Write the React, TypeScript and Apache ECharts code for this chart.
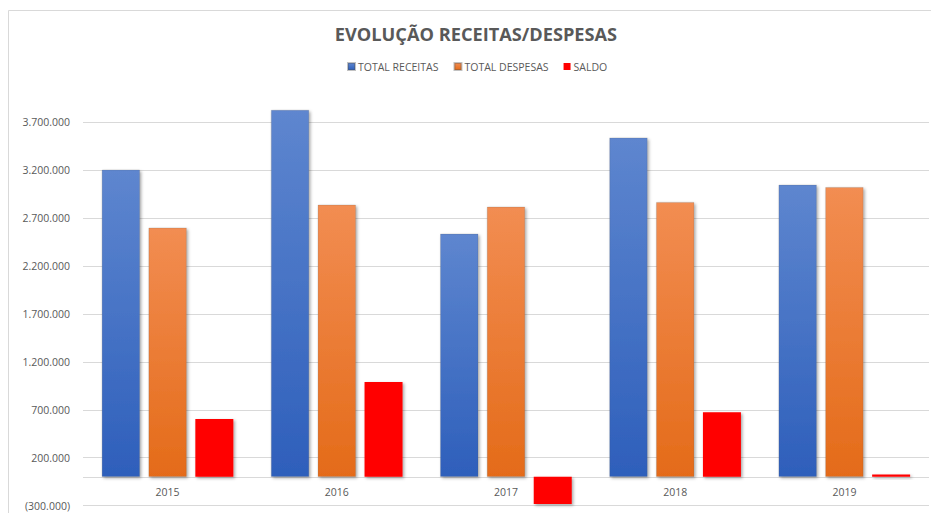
import React, { useEffect, useRef } from "react";
import * as echarts from "echarts";

const categories = ["2015", "2016", "2017", "2018", "2019"];
const totalReceitas = [3205000, 3828000, 2536000, 3540000, 3048000];
const totalDespesas = [2600000, 2839000, 2818000, 2867000, 3023000];
const saldo = [605000, 989000, -282000, 673000, 25000];
const yTicks = [-300000, 200000, 700000, 1200000, 1700000, 2200000, 2700000, 3200000, 3700000];

const fmt = (v: number) => {
  const s = Math.round(Math.abs(v)).toString().replace(/\B(?=(\d{3})+(?!\d))/g, ".");
  return v < 0 ? `(${s})` : s;
};

const TEXT = "#595959";
const FONT = "Open Sans";

export default function App() {
  const ref = useRef<HTMLDivElement>(null);
  useEffect(() => {
    if (!ref.current) return;
    const chart = echarts.init(ref.current, null, { renderer: "svg" });
    const shadow = {
      shadowBlur: 3,
      shadowOffsetX: 1.5,
      shadowOffsetY: 1.5,
      shadowColor: "rgba(0,0,0,0.35)",
    };
    chart.setOption({
      animation: false,
      backgroundColor: "#ffffff",
      textStyle: { fontFamily: FONT },
      title: {
        text: "EVOLUÇÃO RECEITAS/DESPESAS",
        left: 471,
        top: 20,
        textAlign: "center",
        textStyle: { fontFamily: FONT, fontSize: 18.2, fontWeight: "bold", color: TEXT },
      },
      legend: {
        left: 342,
        top: 56,
        itemWidth: 7,
        itemHeight: 7,
        itemGap: 15,
        icon: "rect",
        textStyle: { fontFamily: FONT, fontSize: 10.5, color: TEXT, padding: [0, 0, 0, -2] },
        data: ["TOTAL RECEITAS", "TOTAL DESPESAS", "SALDO"],
      },
      graphic: [
        {
          type: "rect",
          shape: { x: 8.5, y: 10.5, width: 940, height: 520 },
          style: { fill: "none", stroke: "#D9D9D9", lineWidth: 1 },
          silent: true,
        },
      ],
      grid: {
        left: 83,
        right: 2,
        top: 93.6,
        bottom: 7.4,
        containLabel: false,
        outerBoundsMode: "none",
      },
      xAxis: {
        type: "category",
        data: categories,
        position: "bottom",
        axisLine: { show: false, onZero: false },
        axisTick: { show: false },
        axisLabel: { color: TEXT, fontFamily: FONT, fontSize: 10.5, margin: -19 },
        splitLine: { show: false },
      },
      yAxis: {
        type: "value",
        min: -300000,
        max: 4000000,
        axisLine: { show: false },
        axisTick: { show: false, customValues: yTicks },
        axisLabel: {
          customValues: yTicks,
          color: TEXT,
          fontFamily: FONT,
          fontSize: 10.5,
          margin: 13,
          formatter: (v: number) => fmt(v),
        },
        splitLine: { show: true, lineStyle: { color: "#D9D9D9", width: 1 } },
      },
      series: [
        {
          name: "TOTAL RECEITAS",
          type: "bar",
          data: totalReceitas,
          barWidth: 38,
          barGap: "23%",
          z: 3,
          itemStyle: {
            color: new echarts.graphic.LinearGradient(0, 0, 0, 1, [
              { offset: 0, color: "#5E86CF" },
              { offset: 1, color: "#2E5FBB" },
            ]),
            borderColor: "rgba(80,80,80,0.35)",
            borderWidth: 0.5,
            ...shadow,
          },
          markLine: {
            silent: true,
            symbol: ["none", "none"],
            label: { show: false },
            lineStyle: { color: "#D9D9D9", width: 1, type: "solid" },
            emphasis: { disabled: true },
            z: 1,
            data: [{ yAxis: 0 }],
          },
        },
        {
          name: "TOTAL DESPESAS",
          type: "bar",
          data: totalDespesas,
          barWidth: 38,
          barGap: "23%",
          z: 3,
          itemStyle: {
            color: new echarts.graphic.LinearGradient(0, 0, 0, 1, [
              { offset: 0, color: "#F28D52" },
              { offset: 1, color: "#E46B19" },
            ]),
            borderColor: "rgba(80,80,80,0.35)",
            borderWidth: 0.5,
            ...shadow,
          },
        },
        {
          name: "SALDO",
          type: "bar",
          data: saldo,
          barWidth: 38,
          barGap: "23%",
          z: 3,
          itemStyle: {
            color: "#FF0000",
            ...shadow,
          },
        },
      ],
    });
    return () => chart.dispose();
  }, []);
  return (
    <div
      ref={ref}
      style={{ position: "absolute", left: 0, top: 0, width: 931, height: 513 }}
    />
  );
}
